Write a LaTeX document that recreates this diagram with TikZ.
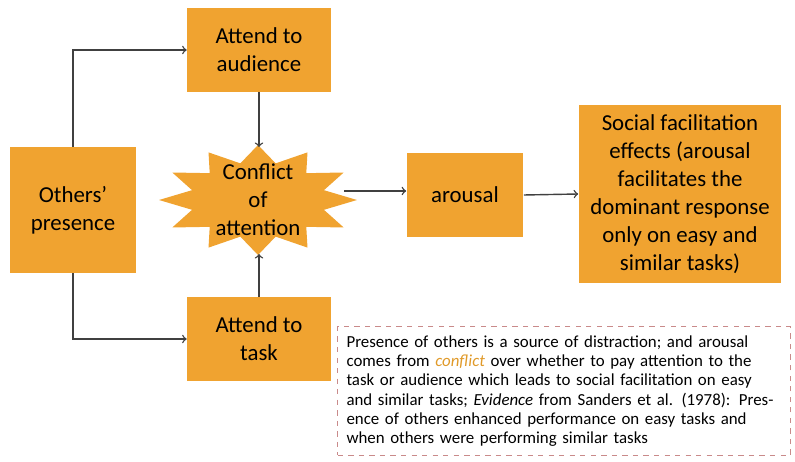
\documentclass[tikz,border=0pt]{standalone}
\usepackage{fontspec}
\setmainfont{Carlito}
\usetikzlibrary{shapes.geometric,positioning}
\definecolor{boxorange}{HTML}{F0A330}
\definecolor{notered}{HTML}{C98A8A}
\definecolor{conflictc}{HTML}{E09A2A}
\tikzset{
    box/.style={fill=boxorange, align=center, font=\fontsize{13}{16}\selectfont},
    arr/.style={->, draw=black!75, thick}
}
\begin{document}
\begin{tikzpicture}[x=0.02cm,y=-0.02cm]
                    \useasboundingbox (0,0) rectangle (795,462);
                    % Boxes
                    \node[box, minimum width=2.54cm, minimum height=2.52cm] (others) at (73,210) {Others'\\presence};
                    \node[box, minimum width=2.88cm, minimum height=1.68cm] (audience) at (259,50) {Attend to\\audience};
                    \node[box, minimum width=2.88cm, minimum height=1.68cm] (task) at (259,339) {Attend to\\task};
                    \node[box, minimum width=2.34cm, minimum height=1.7cm] (arousal) at (465,195) {arousal};
                    \node[box, minimum width=4.06cm, minimum height=3.56cm] (effects) at (680,194) {Social facilitation\\effects (arousal\\facilitates the\\dominant response\\only on easy and\\similar tasks)};
                    % Star
                    \node[star, star points=12, star point ratio=1.45, fill=boxorange, minimum size=2.2cm, xscale=1.8] (starshape) at (258,200) {};
                    \node[align=center, font=\fontsize{13}{16}\selectfont] (conflict) at (258,200) {Conflict\\of\\attention};
                    \coordinate (startop) at (259,147);
                    \coordinate (starbot) at (259,254);
                    \coordinate (starright) at (344,191);
                    % Arrows
                    \draw[arr] (others.north) |- (audience.west);
                    \draw[arr] (others.south) |- (task.west);
                    \draw[arr] (audience.south) -- (startop);
                    \draw[arr] (task.north) -- (starbot);
                    \draw[arr] (starright) -- (starright -| arousal.west);
                    \draw[arr] (arousal.east) -- (effects.west);
                    % Note
                    \node[draw=notered, dashed, text width=8.7cm, align=left, inner sep=5pt,
                          font=\fontsize{9.6}{11}\selectfont] (note) at (564,391)
                        {Presence of others is a source of distraction; and arousal comes from \textcolor{conflictc}{\itshape conflict} over whether to pay attention to the task or audience which leads to social facilitation on easy and similar tasks; \textit{Evidence} from Sanders et al. (1978): Presence of others enhanced performance on easy tasks and when others were performing similar tasks};
                \end{tikzpicture}
\end{document}
